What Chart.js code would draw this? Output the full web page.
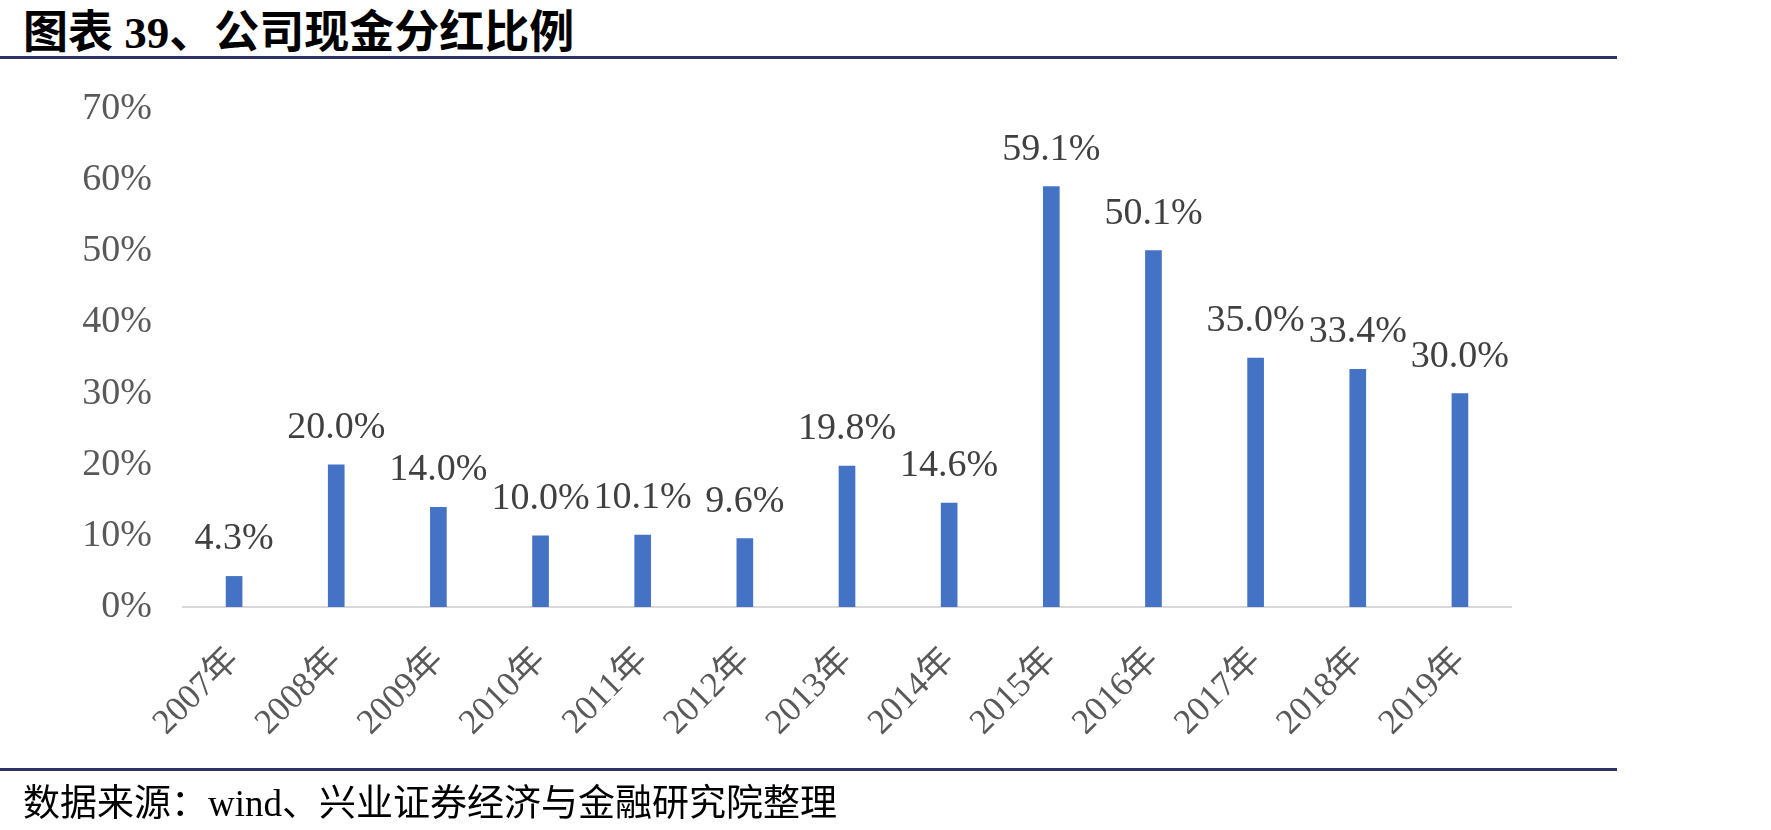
<!DOCTYPE html>
<html>
<head>
<meta charset="utf-8">
<script src="https://cdn.jsdelivr.net/npm/chart.js@4/dist/chart.umd.min.js"></script>
<style>
    html, body { margin: 0; padding: 0; background: #ffffff; }
    #wrap { position: relative; width: 1771px; height: 830px; overflow: hidden; }
    #title {
        position: absolute; left: 23px; top: -4px;
        font-family: "Liberation Serif", "Noto Sans CJK SC", serif;
        font-weight: bold; font-size: 45px; color: #000000; white-space: nowrap;
    }
    .rule { position: absolute; left: 0; width: 1617px; height: 3px; background: #2f3368; }
    #footer {
        position: absolute; left: 23px; top: 773px;
        font-family: "Liberation Serif", "Noto Sans CJK SC", serif;
        font-size: 37px; color: #000000; white-space: nowrap;
    }
    #chartBox { position: absolute; left: 0; top: 0; width: 1771px; height: 830px; }
</style>
</head>
<body>
<div id="wrap">
    <div id="title">图表 39、公司现金分红比例</div>
    <div class="rule" style="top:56px"></div>
    <div id="chartBox"><canvas id="chart"></canvas></div>
    <div class="rule" style="top:768px"></div>
    <div id="footer">数据来源：wind、兴业证券经济与金融研究院整理</div>
</div>
<script>
// 年份
const years = ["2007年", "2008年", "2009年", "2010年", "2011年", "2012年", "2013年",
               "2014年", "2015年", "2016年", "2017年", "2018年", "2019年"];
// 现金分红比例 (%)
const payoutRatio = [4.3, 20.0, 14.0, 10.0, 10.1, 9.6, 19.8, 14.6, 59.1, 50.1, 35.0, 33.4, 30.0];
// 纵轴刻度
const yTicks = [0, 10, 20, 30, 40, 50, 60, 70];

const serifFont = '"Liberation Serif", "Noto Sans CJK SC", serif';

// 柱顶数值标签
const valueLabels = {
    id: "valueLabels",
    afterDatasetsDraw(chart) {
        const ctx = chart.ctx;
        const meta = chart.getDatasetMeta(0);
        ctx.save();
        ctx.font = "38px " + serifFont;
        ctx.fillStyle = "#404040";
        ctx.textAlign = "center";
        ctx.textBaseline = "alphabetic";
        meta.data.forEach((bar, i) => {
            ctx.fillText(payoutRatio[i].toFixed(1) + "%", bar.x, bar.y - 27);
        });
        ctx.restore();
    }
};

new Chart(document.getElementById("chart"), {
    type: "bar",
    data: {
        labels: years,
        datasets: [{
            data: payoutRatio,
            backgroundColor: "#4472C4",
            borderWidth: 0,
            barThickness: 16
        }]
    },
    options: {
        responsive: true,
        maintainAspectRatio: false,
        animation: false,
        layout: { padding: { left: 0, right: 260, top: 109, bottom: 0 } },
        plugins: {
            legend: { display: false },
            tooltip: { enabled: false }
        },
        scales: {
            y: {
                min: 0,
                max: 70,
                afterBuildTicks: (scale) => { scale.ticks = yTicks.map((v) => ({ value: v })); },
                afterFit: (scale) => { scale.width = 183; },
                grid: { display: false },
                border: { display: false },
                ticks: {
                    color: "#595959",
                    padding: 23,
                    font: { family: serifFont, size: 38 },
                    callback: (v) => v + "%"
                }
            },
            x: {
                afterFit: (scale) => { scale.height = 223; },
                grid: { display: false },
                border: { color: "#d9d9d9", width: 2 },
                ticks: {
                    color: "#595959",
                    minRotation: 45,
                    maxRotation: 45,
                    padding: 25,
                    font: { family: serifFont, size: 35 }
                }
            }
        }
    },
    plugins: [valueLabels]
});
</script>
</body>
</html>
